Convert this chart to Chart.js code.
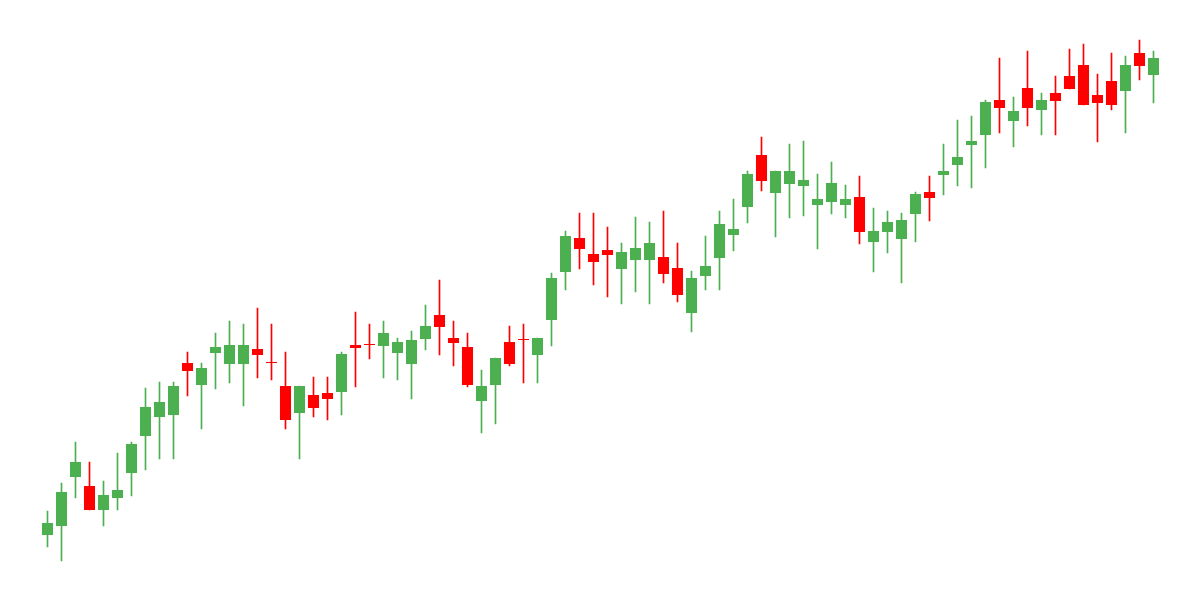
<!DOCTYPE html>
<html lang="pt-br">

<head>
    <meta charset="UTF-8" />
    <meta name="viewport" content="width=device-width, initial-scale=1.0" />
    <title>Candles</title>
    <script src="https://cdn.jsdelivr.net/npm/chart.js"></script>
    <style>
        body {
            margin: 0;
            background: #fff;
        }

        .chart-container {
            position: relative;
            width: 1200px;
            height: 600px;
        }
    </style>
</head>

<body>
    <div class="chart-container">
        <canvas id="myChart"></canvas>
    </div>
</body>

</html>
<script>
    // valores (abertura, máxima, mínima, fechamento)
    var abertura = [65, 74, 123, 114, 90, 102, 127, 164, 183, 185, 237, 215, 247, 236, 236, 251, 238, 214, 187, 205,
        207, 208, 255, 256, 254, 247, 236, 261, 285, 262, 253, 199, 215, 258, 261, 245, 280, 328, 362, 346,
        350, 331, 340, 340, 343, 332, 287, 324, 342, 365, 393, 445, 407, 416, 414, 395, 398, 395, 403, 358,
        368, 361, 386, 408, 425, 435, 455, 465, 500, 479, 512, 490, 507, 524, 535, 505, 519, 509, 547, 525];
    var maxima = [89, 117, 158, 138, 119, 147, 158, 212, 218, 218, 248, 237, 267, 279, 276, 292, 276, 248, 214, 223,
        223, 248, 288, 276, 279, 262, 269, 295, 320, 279, 267, 230, 242, 274, 276, 262, 327, 369, 387, 387,
        373, 357, 383, 378, 389, 357, 329, 364, 389, 401, 429, 463, 429, 456, 459, 426, 438, 415, 424, 392,
        389, 387, 408, 424, 456, 480, 484, 500, 542, 503, 549, 507, 524, 551, 556, 526, 547, 544, 560, 549];
    var minima = [53, 39, 102, 90, 74, 90, 104, 130, 141, 141, 204, 171, 211, 217, 194, 222, 220, 171, 141, 183,
        180, 185, 213, 241, 222, 220, 201, 250, 245, 234, 213, 167, 176, 234, 217, 217, 254, 310, 331, 315,
        303, 296, 308, 296, 317, 298, 268, 310, 310, 349, 377, 409, 363, 382, 384, 351, 386, 382, 356, 328,
        347, 317, 358, 379, 405, 414, 412, 432, 467, 453, 474, 465, 465, 511, 495, 458, 490, 467, 520, 497];
    var fechamento = [77, 108, 138, 90, 105, 110, 156, 193, 198, 214, 229, 232, 253, 255, 255, 245, 237, 180, 214, 192,
        201, 246, 252, 255, 267, 258, 260, 274, 273, 257, 215, 214, 242, 236, 260, 262, 322, 364, 351, 338,
        345, 348, 352, 357, 326, 305, 322, 334, 376, 371, 426, 419, 429, 429, 420, 401, 417, 401, 368, 369,
        378, 380, 406, 402, 429, 443, 459, 498, 492, 489, 492, 500, 499, 511, 495, 497, 495, 535, 534, 542];

    var labelsDias = [];
    var corpos = [];
    var pavios = [];
    var cores = [];

    for (var i = 0; i < abertura.length; i++) {
        labelsDias.push(String(i + 1));
        corpos.push([abertura[i], fechamento[i]]);
        pavios.push([minima[i], maxima[i]]);
        cores.push(fechamento[i] >= abertura[i] ? "#4CAF50" : "#FF0000");
    }

    const ctx = document.getElementById("myChart");
    new Chart(ctx, {
        type: "bar",
        data: {
            labels: labelsDias,
            datasets: [
                {
                    label: "Pavio",
                    data: pavios,
                    backgroundColor: cores,
                    borderWidth: 0,
                    barThickness: 1,
                    grouped: false,
                    order: 2,
                },
                {
                    label: "Corpo",
                    data: corpos,
                    backgroundColor: cores,
                    borderWidth: 0,
                    barPercentage: 0.79,
                    categoryPercentage: 1,
                    minBarLength: 1,
                    grouped: false,
                    order: 1,
                },
            ],
        },
        options: {
            responsive: true,
            maintainAspectRatio: false,
            animation: false,
            layout: {
                // meio pixel para o pavio ficar nítido
                padding: { left: 40.5, right: 39.5, top: 0, bottom: 0 },
            },
            plugins: {
                legend: { display: false },
                tooltip: { enabled: false },
            },
            scales: {
                x: { display: false },
                y: { display: false, min: 0, max: 600 },
            },
        },
    });
</script>
